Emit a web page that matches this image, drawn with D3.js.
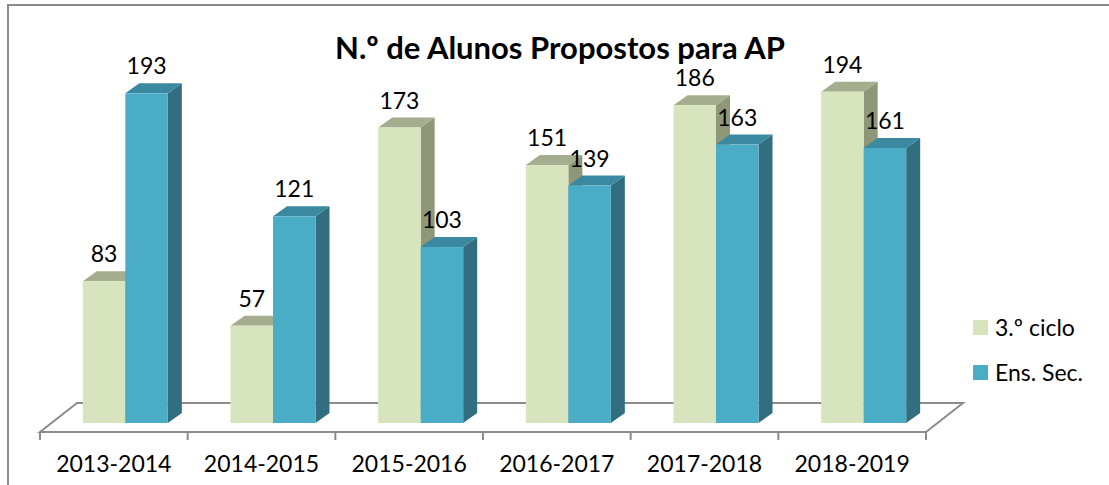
<!DOCTYPE html>
<html>
<head>
<meta charset="utf-8">
<script src="https://cdn.jsdelivr.net/npm/d3@7"></script>
<style>
  body { margin: 0; background: #fff; }
  text { font-family: Lato, "Open Sans", sans-serif; fill: #000; }
</style>
</head>
<body>
<svg id="chart" width="1109" height="485"></svg>
<script>
// data
const years = ["2013-2014", "2014-2015", "2015-2016", "2016-2017", "2017-2018", "2018-2019"];
const ciclo3 = [83, 57, 173, 151, 186, 194];
const ensSec = [193, 121, 103, 139, 163, 161];
const seriesNames = ["3.º ciclo", "Ens. Sec."];

const svg = d3.select("#chart");

// outer border (runs off the right / bottom edge like the screenshot)
svg.append("rect")
    .attr("x", 8).attr("y", 5)
    .attr("width", 1120).attr("height", 500)
    .attr("fill", "none")
    .attr("stroke", "#8a8a8a")
    .attr("stroke-width", 2);

svg.append("text")
    .attr("x", 560).attr("y", 59)
    .attr("text-anchor", "middle")
    .attr("font-weight", "bold")
    .attr("font-size", 31)
    .text("N.º de Alunos Propostos para AP");

const x = d3.scaleBand().domain(years).range([40, 926]).padding(0);
const y = d3.scaleLinear().domain([0, 200]).range([423, 81.4]);

// floor depth and bar depth offsets
const floorDx = 37, floorDy = 29;
const depthDx = 14, depthDy = 10;
const barW = 42.5;
const shift = 11.5;

// floor
const floorY = 432;
svg.append("path")
    .attr("d", `M${x.range()[0]},${floorY} L${x.range()[0] + floorDx},${floorY - floorDy} L${x.range()[1] + floorDx},${floorY - floorDy} L${x.range()[1]},${floorY} Z`)
    .attr("fill", "none")
    .attr("stroke", "#8c8c8c")
    .attr("stroke-width", 2);

// ticks between categories
const tickPos = years.map(d => x(d)).concat([x.range()[1]]);
svg.selectAll(".tick")
    .data(tickPos)
    .enter().append("line")
    .attr("x1", d => d).attr("x2", d => d)
    .attr("y1", floorY).attr("y2", floorY + 8)
    .attr("stroke", "#8c8c8c")
    .attr("stroke-width", 2);

svg.selectAll(".xlabel")
    .data(years)
    .enter().append("text")
    .attr("x", d => x(d) + x.bandwidth() / 2)
    .attr("y", 472)
    .attr("text-anchor", "middle")
    .attr("font-size", 23)
    .text(d => d);

const colors = [
    { front: "#d7e4bd", top: "#a4ae8e", side: "#8f9779" },
    { front: "#4bacc6", top: "#3b89a0", side: "#316f80" }
];

const series = [ciclo3, ensSec];

const bar = (g, x0, v, c) => {
    const yt = y(v), yb = y(0);
    // side face
    g.append("path")
        .attr("d", `M${x0 + barW},${yb} L${x0 + barW + depthDx},${yb - depthDy} L${x0 + barW + depthDx},${yt - depthDy} L${x0 + barW},${yt} Z`)
        .attr("fill", c.side);
    // top face
    g.append("path")
        .attr("d", `M${x0},${yt} L${x0 + depthDx},${yt - depthDy} L${x0 + barW + depthDx},${yt - depthDy} L${x0 + barW},${yt} Z`)
        .attr("fill", c.top);
    // front
    g.append("rect")
        .attr("x", x0).attr("y", yt)
        .attr("width", barW).attr("height", yb - yt)
        .attr("fill", c.front);
};

const bars = svg.append("g");
years.forEach((yr, i) => {
    const start = x(yr) + (x.bandwidth() - 2 * barW) / 2 + shift;
    series.forEach((s, j) => {
        bar(bars, start + j * barW, s[i], colors[j]);
    });
});

// value labels on top
years.forEach((yr, i) => {
    const start = x(yr) + (x.bandwidth() - 2 * barW) / 2 + shift;
    series.forEach((s, j) => {
        svg.append("text")
            .attr("x", start + j * barW + barW / 2)
            .attr("y", y(s[i]) - depthDy - 9)
            .attr("text-anchor", "middle")
            .attr("font-size", 23)
            .text(s[i]);
    });
});

// legend
const legend = svg.append("g").attr("transform", "translate(973,320)");
seriesNames.forEach((name, j) => {
    legend.append("rect")
        .attr("x", 0).attr("y", j * 45)
        .attr("width", 15).attr("height", 15)
        .attr("fill", colors[j].front);
    legend.append("text")
        .attr("x", 22).attr("y", j * 45 + 16)
        .attr("font-size", 23)
        .text(name);
});
</script>
</body>
</html>
